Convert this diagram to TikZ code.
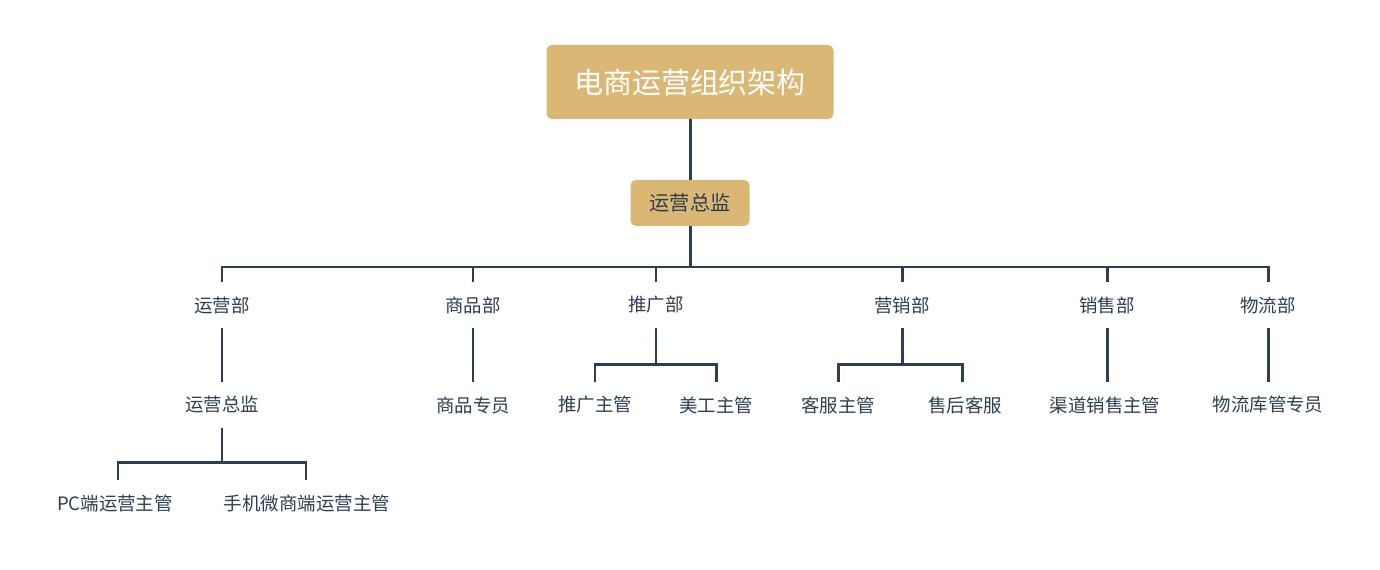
\documentclass[tikz,border=0pt]{standalone}
\usepackage{fontspec}
\setmainfont{Noto Sans CJK SC}
\begin{document}
\begin{tikzpicture}[x=0.02cm,y=-0.02cm,
  box/.style={fill=gold,rounded corners=3pt,inner sep=0pt},
  lbl/.style={text=dark,font=\fontsize{10.5pt}{12pt}\selectfont,minimum height=0.89cm,inner sep=0pt},
  ln/.style={draw=dark,line width=1.7pt}]
\definecolor{gold}{HTML}{DBB776}
\definecolor{dark}{HTML}{2C3E50}
\useasboundingbox (0,0) rectangle (1380,570);
\node[box,minimum width=287*0.02cm,minimum height=74*0.02cm,text=white,font=\fontsize{16.5pt}{18pt}\selectfont] (root) at (690,82) {电商运营组织架构};
\node[box,minimum width=119*0.02cm,minimum height=46*0.02cm,text=dark,font=\fontsize{11.5pt}{13pt}\selectfont] (dir) at (690,203) {运营总监};
\coordinate (bar) at (0,267);
\node[lbl] (d1) at (222,305) {运营部};
\node[lbl] (d2) at (473,305) {商品部};
\node[lbl] (d3) at (656,305) {推广部};
\node[lbl] (d4) at (902,305) {营销部};
\node[lbl] (d5) at (1107,305) {销售部};
\node[lbl] (d6) at (1268,305) {物流部};
\node[lbl] (e1) at (222,405) {运营总监};
\node[lbl] (e2) at (473,405) {商品专员};
\node[lbl] (e3) at (595,405) {推广主管};
\node[lbl] (e4) at (716,405) {美工主管};
\node[lbl] (e5) at (838,405) {客服主管};
\node[lbl] (e6) at (965,405) {售后客服};
\node[lbl] (e7) at (1105,405) {渠道销售主管};
\node[lbl] (e8) at (1268,405) {物流库管专员};
\node[lbl] (f1) at (115,503) {PC端运营主管};
\node[lbl] (f2) at (307,503) {手机微商端运营主管};
\draw[ln] (root.south) -- (dir.north);
\draw[ln] (dir.south) -- (dir.south |- bar);
\draw[ln] (d1.north) -- (d1.north |- bar) -- (d6.north |- bar) -- (d6.north);
\foreach \n in {d2,d3,d4,d5} \draw[ln] (\n.north) -- (\n.north |- bar);
\draw[ln] (d1.south) -- (e1.north);
\draw[ln] (d2.south) -- (e2.north);
\draw[ln] (d5.south) -- (d5.south |- e7.north);
\draw[ln] (d6.south) -- (e8.north);
\draw[ln] (d3.south) -- ++(0,37) coordinate (b3);
\draw[ln] (e3.north) -- (e3.north |- b3) -- (e4.north |- b3) -- (e4.north);
\draw[ln] (d4.south) -- ++(0,37) coordinate (b4);
\draw[ln] (e5.north) -- (e5.north |- b4) -- (962,0 |- b4) -- (962,0 |- e6.north);
\draw[ln] (e1.south) -- ++(0,35) coordinate (b1);
\draw[ln] (f1.north) ++(3,0) -- (118,0 |- b1) -- (306,0 |- b1) -- (306,0 |- f2.north);
\end{tikzpicture}
\end{document}
